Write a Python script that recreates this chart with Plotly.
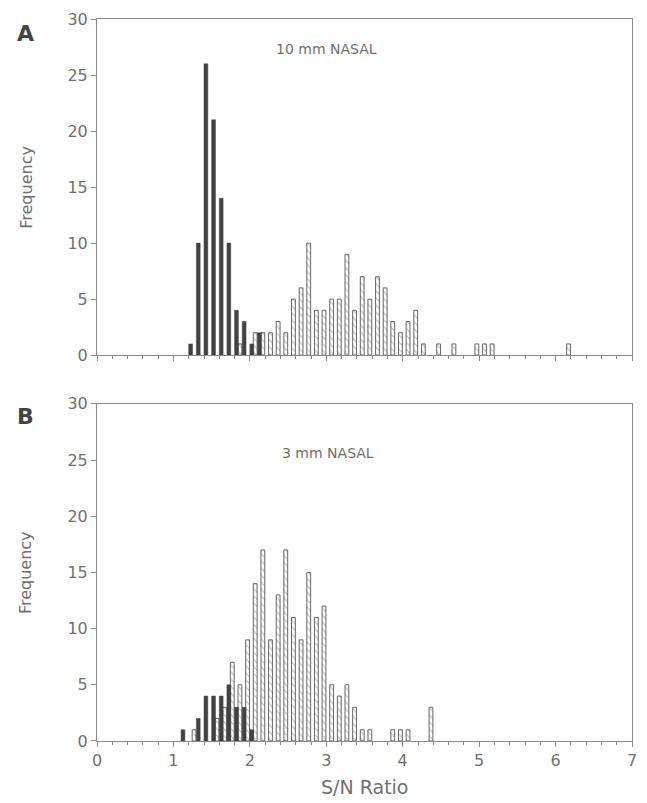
import plotly.graph_objects as go

# ---- data (bin lower edges, S/N ratio; counts) ----
a_black_bins = [1.2, 1.3, 1.4, 1.5, 1.6, 1.7, 1.8, 1.9, 2.0, 2.1]
a_black_vals = [1, 10, 26, 21, 14, 10, 4, 3, 1, 2]
a_hatch_bins = [1.8, 2.0, 2.1, 2.2, 2.3, 2.4, 2.5, 2.6, 2.7, 2.8, 2.9, 3.0, 3.1, 3.2, 3.3,
                3.4, 3.5, 3.6, 3.7, 3.8, 3.9, 4.0, 4.1, 4.2, 4.4, 4.6, 4.9, 5.0, 5.1, 6.1]
a_hatch_vals = [1, 2, 2, 2, 3, 2, 5, 6, 10, 4, 4, 5, 5, 9, 4,
                7, 5, 7, 6, 3, 2, 3, 4, 1, 1, 1, 1, 1, 1, 1]

b_black_bins = [1.1, 1.3, 1.4, 1.5, 1.6, 1.7, 1.8, 1.9, 2.0]
b_black_vals = [1, 2, 4, 4, 4, 5, 3, 3, 1]
b_hatch_bins = [1.2, 1.5, 1.6, 1.7, 1.8, 1.9, 2.0, 2.1, 2.2, 2.3, 2.4, 2.5, 2.6, 2.7, 2.8,
                2.9, 3.0, 3.1, 3.2, 3.3, 3.4, 3.5, 3.8, 3.9, 4.0, 4.3]
b_hatch_vals = [1, 2, 3, 7, 5, 9, 14, 17, 9, 13, 17, 11, 9, 15, 11,
                12, 5, 4, 5, 3, 1, 1, 1, 1, 1, 3]

x_ticks = [0, 1, 2, 3, 4, 5, 6, 7]
y_ticks = [0, 5, 10, 15, 20, 25, 30]
panel_titles = ["10 mm NASAL", "3 mm NASAL"]

BLACK = "#424242"
AXC = "#8a8a8a"
TXT = "#707070"
FONT = "DejaVu Sans"

fig = go.Figure()

def add_panel(xa, ya, bb, bv, hb, hv):
    fig.add_trace(go.Bar(x=hb, y=hv, xaxis=xa, yaxis=ya, offset=0.045, width=0.05,
                         marker=dict(color="white", line=dict(color="#666", width=1),
                                     pattern=dict(shape="\\", fgcolor="#888", bgcolor="white",
                                                  size=5, solidity=0.25)),
                         showlegend=False))
    fig.add_trace(go.Bar(x=bb, y=bv, xaxis=xa, yaxis=ya, offset=0.0, width=0.05,
                         marker=dict(color=BLACK, line=dict(color=BLACK, width=0.5)),
                         showlegend=False))

add_panel("x", "y", a_black_bins, a_black_vals, a_hatch_bins, a_hatch_vals)
add_panel("x2", "y2", b_black_bins, b_black_vals, b_hatch_bins, b_hatch_vals)

xcommon = dict(range=[0, 7], tickvals=x_ticks, showline=True, linecolor=AXC, linewidth=1,
               mirror=True, ticks="outside", ticklen=5, tickcolor=AXC, showgrid=False,
               zeroline=False, minor=dict(dtick=0.2, ticks="outside", ticklen=3, tickcolor=AXC),
               tickfont=dict(family=FONT, size=16, color=TXT))
ycommon = dict(range=[0, 30], tickvals=y_ticks, showline=True, linecolor=AXC, linewidth=1,
               mirror=True, ticks="outside", ticklen=5, tickcolor=AXC, showgrid=False,
               zeroline=False, tickfont=dict(family=FONT, size=16, color=TXT))

total_h = 741 - 15
dA = [(741 - 353) / total_h, 1.0]
dB = [0.0, (741 - 402) / total_h]

fig.update_layout(
    width=647, height=803,
    margin=dict(l=97, r=10, t=15, b=62),
    paper_bgcolor="white", plot_bgcolor="white",
    barmode="overlay",
    xaxis=dict(**xcommon, anchor="y", showticklabels=False),
    yaxis=dict(**ycommon, anchor="x", domain=dA),
    xaxis2=dict(**xcommon, anchor="y2"),
    yaxis2=dict(**ycommon, anchor="x2", domain=dB),
)

xl = (25 - 97) / 540
ann = [
    dict(text="<b>A</b>", x=xl, y=1 - (30 - 15) / total_h, xref="paper", yref="paper",
         xanchor="center", yanchor="middle",
         showarrow=False, font=dict(family=FONT, size=22, color="#444")),
    dict(text="<b>B</b>", x=xl, y=1 - (415 - 15) / total_h, xref="paper", yref="paper",
         xanchor="center", yanchor="middle",
         showarrow=False, font=dict(family=FONT, size=22, color="#444")),
    dict(text="Frequency", x=xl, y=(dA[0] + dA[1]) / 2, xref="paper", yref="paper",
         xanchor="center", yanchor="middle",
         textangle=-90, showarrow=False, font=dict(family=FONT, size=16, color=TXT)),
    dict(text="Frequency", x=xl, y=(dB[0] + dB[1]) / 2, xref="paper", yref="paper",
         xanchor="center", yanchor="middle",
         textangle=-90, showarrow=False, font=dict(family=FONT, size=16, color=TXT)),
    dict(text="S/N Ratio", x=0.5, y=1 - (787 - 15) / total_h, xref="paper", yref="paper",
         xanchor="center", yanchor="middle",
         showarrow=False, font=dict(family=FONT, size=19, color=TXT)),
    dict(text=panel_titles[0], x=3.0, y=27.3, xref="x", yref="y",
         xanchor="center", yanchor="middle",
         showarrow=False, font=dict(family=FONT, size=14, color=TXT)),
    dict(text=panel_titles[1], x=3.02, y=25.6, xref="x2", yref="y2",
         xanchor="center", yanchor="middle",
         showarrow=False, font=dict(family=FONT, size=14, color=TXT)),
]
fig.update_layout(annotations=ann)

fig.write_html("out.html")
